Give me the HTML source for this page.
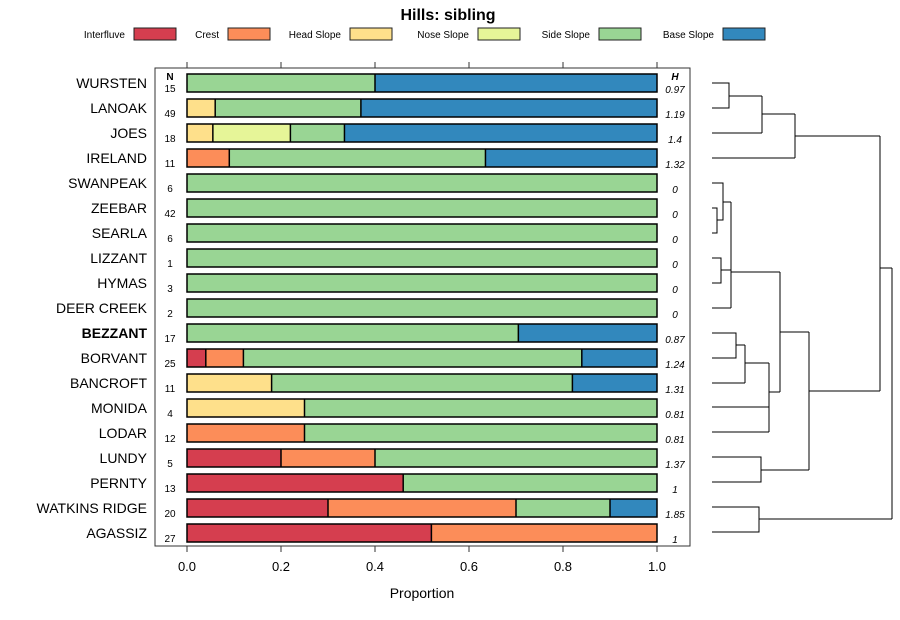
<!DOCTYPE html>
<html><head><meta charset="utf-8">
<style>
body{margin:0;background:#fff;}
svg{display:block;font-family:"Liberation Sans",Arial,sans-serif;}
</style></head>
<body>
<svg id="chart" width="900" height="620" xmlns="http://www.w3.org/2000/svg">
<text x="448" y="20" text-anchor="middle" font-size="16" font-weight="bold">Hills: sibling</text>
<g id="legend"></g>
<rect x="155" y="68" width="535" height="478" fill="none" stroke="#333" stroke-width="1"/>
<text x="170" y="80" text-anchor="middle" font-size="10" font-weight="bold">N</text>
<text x="675" y="80" text-anchor="middle" font-size="10" font-weight="bold" font-style="italic">H</text>
<g id="bars"></g>
<g id="axis"></g>
<text x="422" y="598" text-anchor="middle" font-size="14">Proportion</text>
<g id="dendro" stroke="#000" stroke-width="1" fill="none"></g>
</svg>
<script>
const categories = ["WURSTEN","LANOAK","JOES","IRELAND","SWANPEAK","ZEEBAR","SEARLA","LIZZANT","HYMAS","DEER CREEK","BEZZANT","BORVANT","BANCROFT","MONIDA","LODAR","LUNDY","PERNTY","WATKINS RIDGE","AGASSIZ"];
const nValues = [15,49,18,11,6,42,6,1,3,2,17,25,11,4,12,5,13,20,27];
const hValues = ["0.97","1.19","1.4","1.32","0","0","0","0","0","0","0.87","1.24","1.31","0.81","0.81","1.37","1","1.85","1"];
const seriesNames = ["Interfluve","Crest","Head Slope","Nose Slope","Side Slope","Base Slope"];
const interfluve = [0,0,0,0,0,0,0,0,0,0,0,0.04,0,0,0,0.2,0.46,0.3,0.52];
const crest      = [0,0,0,0.09,0,0,0,0,0,0,0,0.08,0,0,0.25,0.2,0,0.4,0.48];
const headSlope  = [0,0.06,0.055,0,0,0,0,0,0,0,0,0,0.18,0.25,0,0,0,0,0];
const noseSlope  = [0,0,0.165,0,0,0,0,0,0,0,0,0,0,0,0,0,0,0,0];
const sideSlope  = [0.4,0.31,0.115,0.545,1,1,1,1,1,1,0.705,0.72,0.64,0.75,0.75,0.6,0.54,0.2,0];
const baseSlope  = [0.6,0.63,0.665,0.365,0,0,0,0,0,0,0.295,0.16,0.18,0,0,0,0,0.1,0];
const ticks = [0,0.2,0.4,0.6,0.8,1.0];
const colors = ["#d53e4f","#fc8d59","#fee08b","#e6f598","#99d594","#3288bd"];
const NS="http://www.w3.org/2000/svg";
function xScale(v){return 187+v*470;}
function yScale(i){return 83+i*25;}
function mk(tag,attrs,parent){const e=document.createElementNS(NS,tag);for(const k in attrs)e.setAttribute(k,attrs[k]);parent.appendChild(e);return e;}
const legend=document.getElementById('legend');
const legX=[134,228,350,478,599,723];
seriesNames.forEach((s,i)=>{
  const t=mk('text',{x:legX[i]-9,y:38,'text-anchor':'end','font-size':'10'},legend);
  t.textContent=s;
  
  
  const r=mk('rect',{x:legX[i],y:28,width:42,height:12,fill:colors[i],stroke:'#222','stroke-width':1},legend);
  
  
});
const series=[interfluve,crest,headSlope,noseSlope,sideSlope,baseSlope];
const bars=document.getElementById('bars');
categories.forEach((c,i)=>{
  const y=yScale(i);
  const lab=mk('text',{x:147,y:y+5,'text-anchor':'end','font-size':'14','font-weight':c==='BEZZANT'?'bold':'normal'},bars);
  lab.textContent=c;
  
  
  const n=mk('text',{x:170,y:y+9,'text-anchor':'middle','font-size':'10'},bars);
  n.textContent=nValues[i];
  
  
  const h=mk('text',{x:675,y:y+10,'text-anchor':'middle','font-size':'10','font-style':'italic'},bars);
  h.textContent=hValues[i];
  
  
  let acc=0;
  series.forEach((s,k)=>{
    const v=s[i]; if(v<=0){return;}
    const r=mk('rect',{x:xScale(acc),y:y-9,width:xScale(acc+v)-xScale(acc),height:18,fill:colors[k]},bars);
    
    
    acc+=v;
  });
  const o=mk('rect',{x:xScale(0),y:y-9,width:xScale(acc)-xScale(0),height:18,fill:'none',stroke:'#000','stroke-width':1.5},bars);
  
  
  acc=0;
  series.forEach((s,k)=>{const v=s[i]; if(v<=0)return; acc+=v; if(acc<0.999){
    const l=mk('line',{x1:xScale(acc),x2:xScale(acc),y1:y-9,y2:y+9,stroke:'#000','stroke-width':1.5},bars);
    
    }});
});
const axis=document.getElementById('axis');
ticks.forEach(t=>{
  const x=xScale(t);
  mk('line',{x1:x,x2:x,y1:546,y2:552,stroke:'#333'},axis);
  mk('line',{x1:x,x2:x,y1:62,y2:68,stroke:'#333'},axis);
  const tx=mk('text',{x:x,y:571,'text-anchor':'middle','font-size':'13'},axis);
  tx.textContent=t.toFixed(1);
  
  
});
// dendrogram (leaf rows and merge heights in px)
const dendroSegs=[
 [[712,83],[729,83],[729,108],[712,108]],[[729,96],[762,96]],[[712,133],[762,133]],[[762,96],[762,133]],
 [[762,114],[795,114]],[[712,158],[795,158]],[[795,114],[795,158]],[[795,136],[880,136]],
 [[712,183],[723,183],[723,220],[717,220]],[[712,208],[717,208],[717,233],[712,233]],[[723,202],[731,202]],
 [[712,258],[721,258],[721,283],[712,283]],[[721,270],[731,270]],[[712,308],[731,308]],[[731,202],[731,308]],[[731,272],[780,272]],
 [[712,333],[736,333],[736,358],[712,358]],[[736,345],[745,345]],[[712,383],[745,383]],[[745,345],[745,383]],[[745,363],[769,363]],
 [[712,407],[769,407]],[[712,432],[769,432]],[[769,363],[769,432]],[[769,392],[780,392]],[[780,272],[780,392]],[[780,332],[809,332]],
 [[712,457],[761,457],[761,482],[712,482]],[[761,470],[809,470]],[[809,332],[809,470]],[[809,391],[880,391]],[[880,136],[880,391]],
 [[880,268],[892,268]],[[712,507],[759,507],[759,532],[712,532]],[[759,519],[892,519]],[[892,268],[892,519]]
];
const dg=document.getElementById('dendro');
dendroSegs.forEach(s=>{
  const p=mk('polyline',{points:s.map(q=>q.join(',')).join(' ')},dg);
  
  
});
</script>
</body></html>
